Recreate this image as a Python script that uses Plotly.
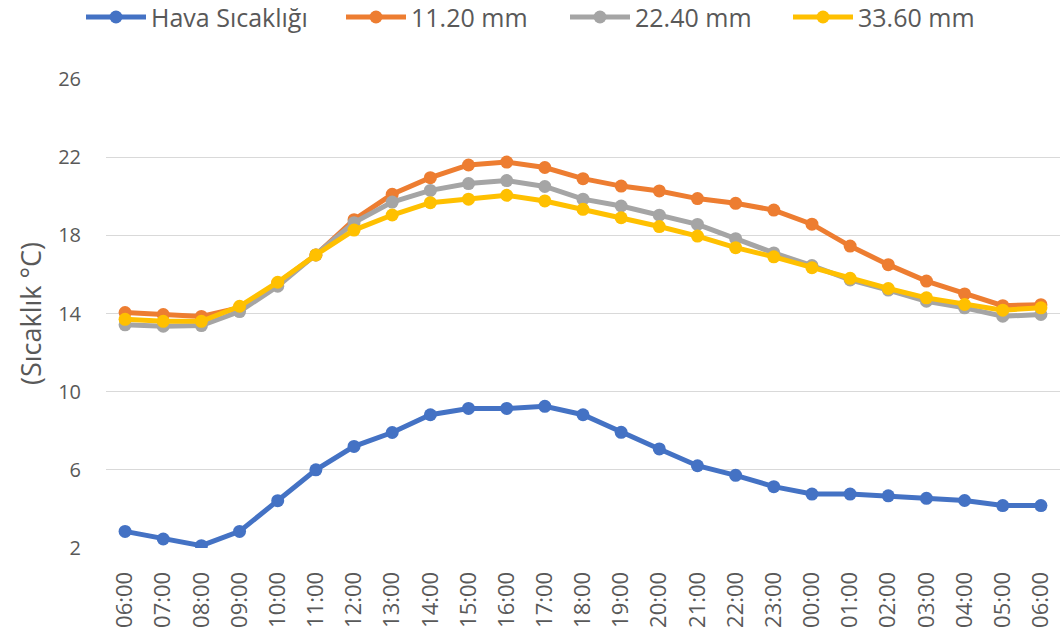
import plotly.graph_objects as go

# Hourly time axis (24 h window, 06:00 to 06:00 next day)
hours = ["06:00", "07:00", "08:00", "09:00", "10:00", "11:00", "12:00", "13:00",
         "14:00", "15:00", "16:00", "17:00", "18:00", "19:00", "20:00", "21:00",
         "22:00", "23:00", "00:00", "01:00", "02:00", "03:00", "04:00", "05:00",
         "06:00"]

# Temperatures (°C)
hava = [2.85, 2.46, 2.12, 2.85, 4.42, 6.0, 7.2, 7.91, 8.82, 9.14, 9.14, 9.25,
        8.82, 7.92, 7.07, 6.21, 5.72, 5.14, 4.76, 4.76, 4.67, 4.54, 4.43, 4.17, 4.17]
mm_11_20 = [14.05, 13.95, 13.85, 14.3, 15.55, 17.0, 18.8, 20.1, 20.95, 21.6, 21.75,
            21.47, 20.9, 20.52, 20.27, 19.88, 19.64, 19.29, 18.57, 17.45, 16.5,
            15.66, 15.0, 14.4, 14.45]
mm_22_40 = [13.42, 13.35, 13.38, 14.1, 15.4, 17.0, 18.65, 19.7, 20.3, 20.65, 20.8,
            20.5, 19.85, 19.5, 19.03, 18.56, 17.83, 17.1, 16.45, 15.72, 15.2,
            14.63, 14.29, 13.86, 13.95]
mm_33_60 = [13.7, 13.6, 13.6, 14.37, 15.6, 17.0, 18.27, 19.04, 19.67, 19.85, 20.05,
            19.76, 19.33, 18.9, 18.45, 17.96, 17.37, 16.9, 16.34, 15.8, 15.28,
            14.8, 14.46, 14.17, 14.29]

y_ticks = [2, 6, 10, 14, 18, 22, 26]

series = [
    ("Hava Sıcaklığı", hava, "#4472C4"),
    ("11.20 mm", mm_11_20, "#ED7D31"),
    ("22.40 mm", mm_22_40, "#A5A5A5"),
    ("33.60 mm", mm_33_60, "#FFC000"),
]

# left edge (px) of each legend entry across the top
legend_left_px = [81, 341, 565, 788]
legend_ids = ["legend", "legend2", "legend3", "legend4"]

W, H = 1061, 638
positions = list(range(len(hours)))

fig = go.Figure()
for (name, values, color), lid in zip(series, legend_ids):
    fig.add_trace(go.Scatter(
        x=positions, y=values, name=name, mode="lines+markers",
        line=dict(color=color, width=5),
        marker=dict(color=color, size=13),
        legend=lid,
    ))

legend_style = dict(
    orientation="h", xref="container", yref="container", xanchor="left",
    y=0.973, yanchor="middle", itemwidth=60, bgcolor="rgba(0,0,0,0)",
    font=dict(family="Open Sans, sans-serif", size=25, color="#595959"),
)
legends = {}
for lid, left in zip(legend_ids, legend_left_px):
    legends[lid] = dict(legend_style, x=left / W)

fig.update_layout(
    width=W, height=H,
    margin=dict(l=106, r=1, t=79, b=90),
    paper_bgcolor="white", plot_bgcolor="white",
    font=dict(family="Open Sans, sans-serif", color="#595959"),
    showlegend=True,
    **legends,
    xaxis=dict(
        tickmode="array", tickvals=positions, ticktext=hours,
        range=[-0.5, len(hours) - 0.5], tickangle=-90,
        showgrid=False, zeroline=False, showline=False,
        ticks="outside", ticklen=14, tickcolor="rgba(0,0,0,0)",
        tickfont=dict(size=22, color="#595959"),
    ),
    yaxis=dict(
        range=[2, 26], tickvals=y_ticks, showgrid=True, gridcolor="#D9D9D9",
        gridwidth=1, zeroline=False, showline=False,
        ticks="outside", ticklen=20, tickcolor="rgba(0,0,0,0)",
        tickfont=dict(size=20, color="#595959"),
        title=dict(text="(Sıcaklık °C)", font=dict(size=27, color="#595959"),
                   standoff=8),
    ),
)

fig.write_html("out.html")
